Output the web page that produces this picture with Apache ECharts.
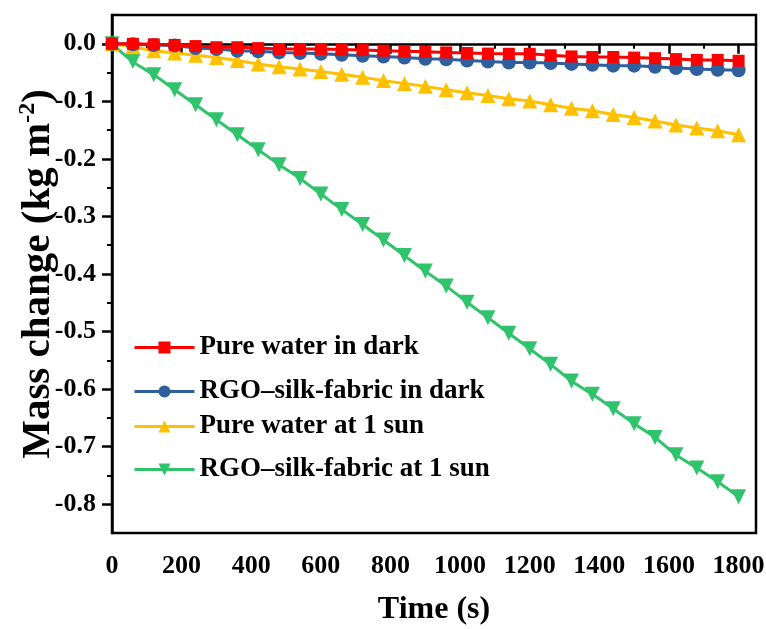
<!DOCTYPE html>
<html style="height: 100%">
<head>
    <meta charset="UTF-8">
    <title>Mass change</title>
</head>
<body style="height: 100%; margin: 0; background: #fff">
<div id="container" style="width: 766px; height: 629px"></div>
<script src="https://cdn.jsdelivr.net/npm/echarts@6/dist/echarts.min.js"></script>
<script>
    // time points (s), one every 60 s
    var times = [0, 60, 120, 180, 240, 300, 360, 420, 480, 540, 600, 660, 720, 780, 840, 900,
        960, 1020, 1080, 1140, 1200, 1260, 1320, 1380, 1440, 1500, 1560, 1620, 1680, 1740, 1800];

    var seriesNames = ['Pure water in dark', 'RGO\u2013silk-fabric in dark',
        'Pure water at 1 sun', 'RGO\u2013silk-fabric at 1 sun'];

    // mass change (kg m-2)
    var waterDark = [0, 0, -0.001, -0.002, -0.004, -0.006, -0.006, -0.0075, -0.009, -0.009, -0.009,
        -0.010, -0.011, -0.012, -0.013, -0.014, -0.015, -0.016, -0.017, -0.0174, -0.0174, -0.020,
        -0.022, -0.023, -0.023, -0.024, -0.025, -0.0266, -0.028, -0.028, -0.0295];
    var rgoDark = [0, -0.001, -0.002, -0.003, -0.0075, -0.009, -0.012, -0.013, -0.015, -0.016, -0.0175,
        -0.019, -0.021, -0.022, -0.024, -0.026, -0.027, -0.029, -0.031, -0.0325, -0.0325, -0.0335,
        -0.035, -0.0365, -0.038, -0.038, -0.040, -0.042, -0.044, -0.045, -0.046];
    var waterSun = [0, -0.005, -0.012, -0.016, -0.020, -0.024, -0.029, -0.035, -0.040, -0.044, -0.048,
        -0.053, -0.058, -0.064, -0.069, -0.074, -0.080, -0.085, -0.090, -0.0955, -0.0995, -0.106,
        -0.112, -0.1165, -0.123, -0.128, -0.134, -0.141, -0.1465, -0.151, -0.158];
    var rgoSun = [0, -0.031, -0.054, -0.080, -0.106, -0.132, -0.158, -0.184, -0.210, -0.234, -0.261,
        -0.288, -0.314, -0.341, -0.368, -0.395, -0.421, -0.449, -0.476, -0.503, -0.530, -0.557,
        -0.586, -0.609, -0.634, -0.660, -0.684, -0.714, -0.737, -0.761, -0.787];

    // tick positions
    var xMajor = [0, 200, 400, 600, 800, 1000, 1200, 1400, 1600, 1800];
    var xMinor = [100, 300, 500, 700, 900, 1100, 1300, 1500, 1700];
    var yMajor = [0, -0.1, -0.2, -0.3, -0.4, -0.5, -0.6, -0.7, -0.8];
    var yMinor = [-0.05, -0.15, -0.25, -0.35, -0.45, -0.55, -0.65, -0.75];

    var font = "'Liberation Serif', 'Times New Roman', serif";
    var colors = ['#ff0000', '#2f5f9d', '#ffc000', '#2fc36b'];
    var symbols = ['rect', 'circle', 'triangle', 'path://M0,0 L10,0 L5,9 Z'];
    var symbolSizes = [12, 14, 15, 15];
    var legendTops = [329, 373, 408, 451];

    function pairs(values) {
        var out = [];
        for (var i = 0; i < times.length; i++) {
            out.push([times[i], values[i]]);
        }
        return out;
    }

    var allValues = [waterDark, rgoDark, waterSun, rgoSun];
    var series = [];
    var legends = [];
    for (var s = 0; s < 4; s++) {
        series.push({
            name: seriesNames[s],
            type: 'line',
            xAxisIndex: 0,
            yAxisIndex: 0,
            data: pairs(allValues[s]),
            smooth: s === 3 ? 0.3 : false,
            symbol: symbols[s],
            symbolSize: symbolSizes[s],
            showAllSymbol: true,
            color: colors[s],
            lineStyle: {width: 3, color: colors[s]},
            itemStyle: {color: colors[s]},
            z: 10 - s
        });
        legends.push({
            data: [seriesNames[s]],
            left: 128,
            top: legendTops[s],
            itemWidth: 60,
            itemHeight: 15,
            lineStyle: {width: 3},
            textStyle: {fontFamily: font, fontWeight: 'bold', fontSize: 27, color: '#000'}
        });
    }

    var dom = document.getElementById("container");
    var myChart = echarts.init(dom, null, {renderer: 'canvas'});
    var gridBox = {left: 112, right: 10, top: 15, bottom: 96};
    var option = {
        animation: false,
        backgroundColor: '#fff',
        grid: [{
            left: gridBox.left, right: gridBox.right, top: gridBox.top, bottom: gridBox.bottom,
            outerBoundsMode: 'none',
            show: true, borderColor: '#000', borderWidth: 2.5
        }, {
            // same box, only carries the minor ticks
            left: gridBox.left, right: gridBox.right, top: gridBox.top, bottom: gridBox.bottom,
            outerBoundsMode: 'none'
        }],
        legend: legends,
        xAxis: [{
            type: 'value',
            gridIndex: 0,
            min: 0,
            max: 1850,
            name: 'Time (s)',
            nameLocation: 'middle',
            nameGap: 61,
            nameMoveOverlap: false,
            nameTextStyle: {fontFamily: font, fontWeight: 'bold', fontSize: 32, color: '#000'},
            axisLine: {show: true, lineStyle: {color: '#000', width: 2.5}},
            axisTick: {show: true, customValues: xMajor, length: 10, lineStyle: {color: '#000', width: 2.5}},
            axisLabel: {
                customValues: xMajor, margin: 20, color: '#000',
                fontFamily: font, fontWeight: 'bold', fontSize: 26,
                formatter: function (v) { return String(v); }
            },
            splitLine: {show: false}
        }, {
            type: 'value',
            gridIndex: 1,
            position: 'bottom',
            min: 0,
            max: 1850,
            axisLine: {show: false},
            axisTick: {show: true, customValues: xMinor, length: 5, lineStyle: {color: '#000', width: 2}},
            axisLabel: {show: false},
            splitLine: {show: false}
        }],
        yAxis: [{
            type: 'value',
            gridIndex: 0,
            min: -0.85,
            max: 0.05,
            name: 'Mass change (kg m{sup|-2})',
            nameLocation: 'middle',
            nameGap: 52,
            nameMoveOverlap: false,
            nameTextStyle: {
                fontFamily: font, fontWeight: 'bold', fontSize: 41, color: '#000',
                rich: {
                    sup: {fontFamily: font, fontWeight: 'bold', fontSize: 24, color: '#000', verticalAlign: 'top', padding: [0, 0, 20, 0]}
                }
            },
            axisLine: {show: true, lineStyle: {color: '#000', width: 2.5}},
            axisTick: {show: true, customValues: yMajor, length: 10, lineStyle: {color: '#000', width: 2.5}},
            axisLabel: {
                customValues: yMajor, margin: 16, color: '#000',
                fontFamily: font, fontWeight: 'bold', fontSize: 26,
                formatter: function (v) { return v.toFixed(1); }
            },
            splitLine: {show: false}
        }, {
            type: 'value',
            gridIndex: 1,
            position: 'left',
            min: -0.85,
            max: 0.05,
            axisLine: {show: false},
            axisTick: {show: true, customValues: yMinor, length: 5, lineStyle: {color: '#000', width: 2}},
            axisLabel: {show: false},
            splitLine: {show: false}
        }],
        series: series
    };
    myChart.setOption(option);
</script>
</body>
</html>
